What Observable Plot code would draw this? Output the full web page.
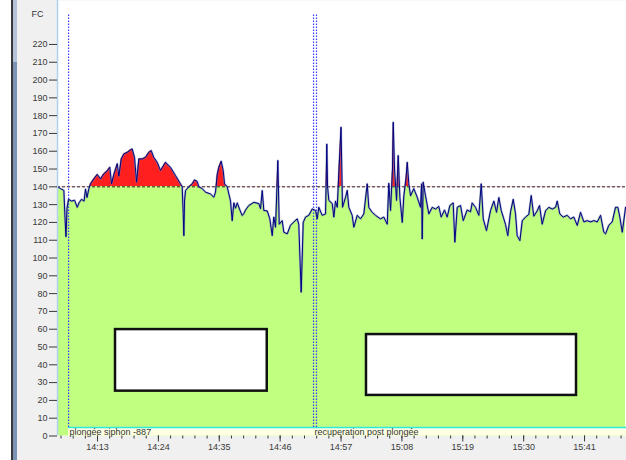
<!DOCTYPE html>
<html><head><meta charset="utf-8">
<script src="https://cdn.jsdelivr.net/npm/d3@7"></script>
<script src="https://cdn.jsdelivr.net/npm/@observablehq/plot@0.6"></script>
<style>
html,body{margin:0;padding:0;background:#fff;}
#wrap{position:relative;width:626px;height:460px;overflow:hidden;background:#f0f0f0;}
.sb1{position:absolute;left:0;top:0;width:11px;height:460px;background:#fff;}
.sb2{position:absolute;left:11px;top:0;width:1.5px;height:460px;background:#3a3a3a;}
.sb3{position:absolute;left:12.5px;top:0;width:4px;height:62px;background:#b4c2d8;}
.sb4{position:absolute;left:12.5px;top:62px;width:4px;height:398px;background:#7d93b6;}
#chart{position:absolute;left:0;top:0;}
</style></head>
<body>
<div id="wrap"><div class="sb1"></div><div class="sb2"></div><div class="sb3"></div><div class="sb4"></div><div id="chart"></div></div>
<script>
// ---- data ----
const times = [
"14:05:46","14:06:19","14:06:55","14:07:08","14:07:18","14:07:29","14:07:46","14:08:18","14:08:51","14:09:20",
"14:09:39","14:10:06","14:10:34","14:10:50","14:11:06","14:11:26","14:11:44","14:12:20","14:12:57","14:13:33",
"14:14:08","14:14:45","14:15:13","14:15:32","14:15:57","14:16:34","14:16:51","14:17:17","14:17:45","14:18:22",
"14:18:58","14:19:16","14:19:41","14:20:03","14:20:28","14:21:05","14:21:40","14:22:16","14:22:42","14:23:10",
"14:23:47","14:24:23","14:25:17","14:26:11","14:27:06","14:28:00","14:28:18","14:28:29","14:28:36","14:28:43",
"14:28:54","14:29:30","14:30:07","14:30:32","14:31:01","14:31:18","14:31:55","14:32:31","14:33:25","14:34:01",
"14:34:19","14:34:38","14:34:55","14:35:21","14:35:43","14:35:57","14:36:26","14:36:44","14:37:02","14:37:20",
"14:37:38","14:37:56","14:38:15","14:38:43","14:39:09","14:39:26","14:39:45","14:40:20","14:41:15","14:42:09",
"14:42:27","14:42:46","14:43:03","14:43:40","14:44:08","14:44:34","14:44:51","14:45:10","14:45:35","14:45:50",
"14:46:22","14:46:40","14:47:17","14:47:52","14:48:28","14:49:05","14:49:22","14:49:48","14:50:10","14:50:35",
"14:51:11","14:51:48","14:52:24","14:52:42","14:52:59","14:53:36","14:54:12","14:54:21","14:54:26","14:54:34",
"14:54:48","14:55:25","14:55:42","14:56:00","14:56:19","14:56:38","14:57:00","14:57:16","14:57:49","14:58:07",
"14:58:25","14:59:01","14:59:19","14:59:56","15:00:31","15:01:07","15:01:44","15:02:01","15:02:38","15:03:14",
"15:04:08","15:04:44","15:05:21","15:05:38","15:05:57","15:06:18","15:06:26","15:06:40","15:07:02","15:07:20",
"15:07:38","15:08:04","15:08:21","15:08:45","15:08:58","15:09:15","15:09:34","15:10:09","15:10:46","15:11:22",
"15:11:33","15:11:40","15:11:51","15:12:16","15:12:52","15:13:29","15:14:05","15:14:40","15:15:06","15:15:42",
"15:16:11","15:16:40","15:17:16","15:17:34","15:18:00","15:18:36","15:19:05","15:19:48","15:20:24","15:20:42",
"15:21:18","15:21:54","15:22:20","15:22:42","15:23:17","15:24:01","15:24:37","15:25:06","15:25:31","15:25:57",
"15:26:43","15:27:08","15:27:38","15:28:07","15:28:32","15:28:50","15:29:19","15:29:45","15:30:20","15:30:56",
"15:31:22","15:31:50","15:32:27","15:32:52","15:33:21","15:33:57","15:34:33","15:35:10","15:35:46","15:36:04",
"15:36:32","15:37:09","15:37:52","15:38:28","15:39:04","15:39:41","15:40:17","15:40:53","15:41:29","15:42:05",
"15:42:41","15:43:18","15:43:54","15:44:29","15:44:48","15:45:23","15:46:00","15:46:36","15:47:01","15:47:23",
"15:47:49","15:48:25"
];
const fc = [
140,139,138,122,112,128,133,132,132.5,128.5,
131,133,132,138.8,134,139,141.7,144.5,147,144.5,
147.3,149,151,141.7,147,153,146,155.7,158.5,159.4,
160.8,161.3,156.6,142.6,155.7,155.7,156.6,159.4,160.4,156.6,
153.8,149.2,153.8,151,146.3,141.7,140,125,112.6,132,
138,140,141.7,143.9,143,140,139,137,136,134.2,
137,147,151,154.4,149,141.7,140,136,132,121,
131,128,131,127,123.9,125,127,129.5,131.3,130.6,
127.7,137.9,126.7,126.5,122,112.6,123,117.3,154.8,119,
121,114.5,113.6,118.4,120.3,122,119,80.8,120,123,
124,127.6,126.7,122,128.5,124,124.8,149,164,140,
132.4,130.6,123,132,128.5,150,173.5,128.5,134.2,138,
128.5,124,117.3,124,122,124.8,141.7,128.5,125.7,124,
122,123,119,142,126.7,150,176.3,150,132.4,157.6,
134,120,135,145,153.8,141.7,135,139,134.2,128.5,
141.7,110.7,142.6,135,124.8,128.5,127.5,129,123,127,
123,129.5,131,108.9,128.5,129.5,121,127,126,131,
128.5,124,141.7,122,115.4,126.7,132,125.7,134,126.7,
119,112.6,126,133,124.8,112.6,109.8,121,123,124.5,
135.1,123.5,126.5,129.5,119,126.5,128.5,127.5,128.5,132,
124.8,123,124,122,123,118.3,125.7,120.3,121,120.3,
121,120.3,124,114.5,113.6,118.4,120.3,128.5,128.5,123,
114.5,128.5
];
const threshold = 140;
const yTicks = [0,10,20,30,40,50,60,70,80,90,100,110,120,130,140,150,160,170,180,190,200,210,220];
const xTickLabels = ["14:13","14:24","14:35","14:46","14:57","15:08","15:19","15:30","15:41"];
const xDomain = ["14:05:46","15:48:35"];
const phaseStarts = ["14:07:46","14:52:02"];
const phaseLabels = ["plongée siphon -887","recuperation post plongée"];
const phaseMarkers = ["14:07:46","14:52:02","14:52:34"];
const boxStart = ["14:16:15","15:01:36"];
const boxEnd = ["14:43:40","15:39:33"];
const boxLow = [25.2,22.8];
const boxHigh = [59.8,57.0];
const bandTop = 4.8;
const markerTop = 237;

// ---- build ----
const parse = s => { const [h,m,sec] = s.split(":").map(Number); return new Date(2000,0,1,h,m,sec||0); };
const data = times.map((t,i) => ({t: parse(t), v: fc[i]}));
const x0 = parse(xDomain[0]), x1 = parse(xDomain[1]);
const majorTicks = xTickLabels.map(parse);
const base = parse(xTickLabels[0]);
const minorTicks = d3.range(-5, 60).map(k => new Date(+base + k*132000)).filter(d => d >= x0 && d <= x1);
const phases = phaseStarts.map((s,i) => ({t: parse(s), label: phaseLabels[i]}));
const boxes = boxStart.map((s,i) => ({a: parse(s), b: parse(boxEnd[i]), lo: boxLow[i], hi: boxHigh[i]}));

const chart = Plot.plot({
  width: 626, height: 460,
  marginLeft: 57, marginRight: 0, marginTop: 0, marginBottom: 24.5,
  style: {background: "transparent", fontFamily: "'Liberation Sans', Arial, sans-serif", fontSize: "9px", color: "#3a3a3a", overflow: "visible"},
  x: {type: "time", domain: [x0, x1]},
  y: {domain: [0, 244.7]},
  marks: [
    Plot.frame({fill: "white", stroke: null}),
    Plot.areaY(data, {x: "t", y: "v", fill: "#c0ff80"}),
    Plot.areaY(data, {x: "t", y1: threshold, y2: "v", fill: "#ff1f1f"}),
    Plot.rect([phases[0]], {x1: "t", x2: () => x1, y1: 0, y2: bandTop, fill: "#ffffe4"}),
    Plot.ruleY([bandTop], {x1: phases[0].t, x2: x1, stroke: "#30e8dc", strokeWidth: 1.5}),
    Plot.ruleY([threshold], {stroke: "#222", strokeDasharray: "3,2"}),
    Plot.ruleX(phaseMarkers.map(parse), {y1: bandTop, y2: markerTop, stroke: "#3a3aff", strokeDasharray: "1.5,1.5", strokeWidth: 1.2}),
    Plot.line(data, {x: "t", y: "v", stroke: "#6a78b4", strokeWidth: 2.2, strokeOpacity: 0.5}),
    Plot.line(data, {x: "t", y: "v", stroke: "#000080", strokeWidth: 1}),
    Plot.text(phases, {x: "t", y: 0, text: "label", textAnchor: "start", dx: 1, dy: -4, fill: "#333"}),
    Plot.rect(boxes, {x1: "a", x2: "b", y1: "lo", y2: "hi", fill: "white", stroke: "#111", strokeWidth: 2.5}),
    Plot.ruleX([x0], {stroke: "#b0d0f0", strokeWidth: 1.5}),
    Plot.axisY({ticks: yTicks, tickSize: 8, tickPadding: 2, label: null}),
    Plot.axisX({ticks: majorTicks, tickFormat: d3.timeFormat("%H:%M"), tickSize: 6, tickPadding: 2, label: null}),
    Plot.axisX({ticks: minorTicks, tickFormat: () => "", tickSize: 3, label: null}),
    Plot.text(["FC"], {frameAnchor: "top-left", dx: -26, dy: 10, textAnchor: "start", fill: "#333"})
  ]
});

// clip red area to the region above the threshold
const yT = chart.scale("y").apply(threshold);
const ns = "http://www.w3.org/2000/svg";
const defs = document.createElementNS(ns, "defs");
const cp = document.createElementNS(ns, "clipPath"); cp.setAttribute("id", "above-thr");
const r = document.createElementNS(ns, "rect");
r.setAttribute("x", 0); r.setAttribute("y", 0); r.setAttribute("width", 626); r.setAttribute("height", yT);
cp.appendChild(r); defs.appendChild(cp);
chart.insertBefore(defs, chart.firstChild);
const areas = chart.querySelectorAll('g[aria-label="area"]');
if (areas[1]) areas[1].setAttribute("clip-path", "url(#above-thr)");

document.getElementById("chart").appendChild(chart);
</script>
</body></html>
